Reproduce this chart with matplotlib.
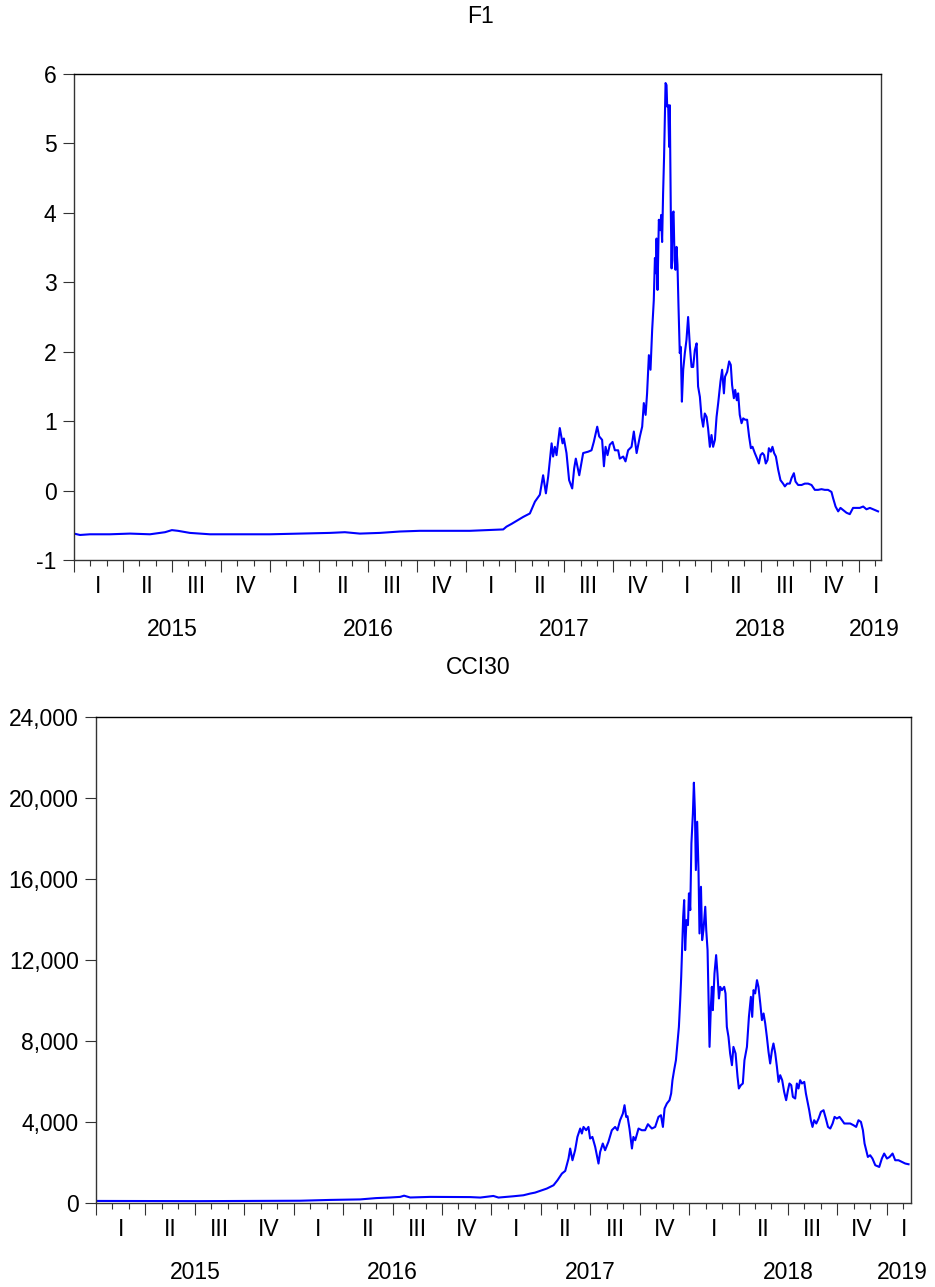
import matplotlib
matplotlib.use("Agg")
import matplotlib.pyplot as plt
import matplotlib.transforms as mtransforms
from matplotlib.ticker import FuncFormatter

plt.rcParams["font.family"] = ["Liberation Sans", "DejaVu Sans"]
plt.rcParams["axes.unicode_minus"] = False

# Time axis: months elapsed since January 2015 (daily series, sampled at turning points)
f1_t = [0.00, 0.37, 0.98, 2.20, 3.43, 4.65, 5.57, 5.99, 6.36, 7.09, 8.32, 10.15, 11.99,
        13.82, 15.66, 16.57, 17.49, 18.72, 19.94, 21.16, 22.39, 24.22, 26.26, 26.46, 26.77,
        27.48, 27.89, 28.20, 28.50, 28.70, 28.87, 29.01, 29.22, 29.31, 29.42, 29.52, 29.72,
        29.89, 29.97, 30.13, 30.29, 30.48, 30.60, 30.70, 30.91, 31.15, 31.46, 31.66, 31.80,
        32.01, 32.13, 32.31, 32.42, 32.52, 32.64, 32.78, 32.95, 33.09, 33.29, 33.39, 33.60,
        33.74, 33.90, 34.11, 34.25, 34.42, 34.62, 34.76, 34.86, 34.97, 35.06, 35.17, 35.27,
        35.37, 35.47, 35.54, 35.60, 35.64, 35.70, 35.78, 35.86, 35.92, 35.98, 36.04, 36.10,
        36.19, 36.25, 36.29, 36.35, 36.41, 36.45, 36.51, 36.56, 36.62, 36.68, 36.74, 36.80,
        36.86, 36.92, 36.98, 37.06, 37.12, 37.19, 37.27, 37.37, 37.47, 37.57, 37.68, 37.78,
        37.88, 37.98, 38.09, 38.18, 38.29, 38.39, 38.49, 38.59, 38.70, 38.79, 38.90, 39.00,
        39.10, 39.21, 39.31, 39.41, 39.55, 39.65, 39.76, 39.83, 39.96, 40.08, 40.18, 40.26,
        40.37, 40.45, 40.55, 40.63, 40.73, 40.84, 40.94, 41.06, 41.18, 41.30, 41.41, 41.51,
        41.65, 41.79, 41.90, 42.00, 42.12, 42.22, 42.32, 42.43, 42.51, 42.63, 42.73, 42.83,
        42.94, 43.08, 43.22, 43.38, 43.49, 43.63, 43.79, 43.90, 44.04, 44.14, 44.30, 44.51,
        44.71, 44.91, 45.12, 45.32, 45.52, 45.73, 45.93, 46.13, 46.34, 46.44, 46.59, 46.75,
        46.89, 47.05, 47.26, 47.46, 47.66, 47.87, 48.07, 48.28, 48.48, 48.69, 48.89, 49.19]

f1_v = [-0.62, -0.64, -0.63, -0.63, -0.62, -0.63, -0.60, -0.57, -0.58, -0.61, -0.63, -0.63,
        -0.63, -0.62, -0.61, -0.60, -0.62, -0.61, -0.59, -0.58, -0.58, -0.58, -0.56, -0.52,
        -0.48, -0.38, -0.33, -0.16, -0.06, 0.22, -0.04, 0.20, 0.68, 0.49, 0.63, 0.51, 0.90,
        0.68, 0.75, 0.54, 0.15, 0.03, 0.32, 0.46, 0.22, 0.54, 0.56, 0.58, 0.70, 0.92, 0.78,
        0.73, 0.35, 0.63, 0.51, 0.66, 0.70, 0.58, 0.58, 0.46, 0.49, 0.42, 0.58, 0.63, 0.85,
        0.54, 0.78, 0.92, 1.26, 1.09, 1.40, 1.95, 1.74, 2.31, 2.74, 3.35, 3.13, 3.63, 2.89,
        3.90, 3.75, 3.97, 3.58, 4.28, 4.81, 5.87, 5.84, 5.53, 5.55, 4.95, 5.55, 4.04, 3.20,
        3.99, 4.02, 3.32, 3.18, 3.51, 3.25, 2.67, 1.98, 2.07, 1.28, 1.74, 1.98, 2.17, 2.50,
        2.07, 1.78, 1.78, 2.02, 2.12, 1.50, 1.35, 1.06, 0.92, 1.11, 1.06, 0.90, 0.63, 0.80,
        0.63, 0.73, 1.06, 1.26, 1.57, 1.74, 1.40, 1.64, 1.71, 1.86, 1.81, 1.52, 1.33, 1.45,
        1.30, 1.40, 1.09, 0.97, 1.04, 1.02, 1.02, 0.78, 0.61, 0.63, 0.54, 0.46, 0.39, 0.51,
        0.54, 0.51, 0.39, 0.44, 0.61, 0.56, 0.63, 0.54, 0.49, 0.30, 0.15, 0.10, 0.06, 0.10,
        0.10, 0.18, 0.25, 0.13, 0.08, 0.08, 0.10, 0.10, 0.08, 0.01, 0.01, 0.02, 0.01, 0.01,
        -0.02, -0.11, -0.23, -0.30, -0.25, -0.28, -0.32, -0.34, -0.25, -0.25, -0.25, -0.23,
        -0.27, -0.25, -0.27, -0.30]

cci_t = [0.00, 3.28, 6.31, 9.96, 12.39, 14.21, 16.03, 17.00, 17.85, 18.46, 18.70, 19.07,
         20.28, 22.71, 23.32, 24.12, 24.43, 25.34, 25.94, 26.35, 26.65, 27.06, 27.36, 27.77,
         28.01, 28.28, 28.48, 28.68, 28.78, 28.92, 29.08, 29.22, 29.39, 29.49, 29.59, 29.75,
         29.89, 29.99, 30.13, 30.30, 30.40, 30.50, 30.60, 30.76, 30.90, 31.10, 31.31, 31.51,
         31.65, 31.81, 31.98, 32.08, 32.18, 32.26, 32.38, 32.53, 32.62, 32.73, 32.93, 33.13,
         33.33, 33.50, 33.74, 33.94, 34.14, 34.29, 34.41, 34.51, 34.65, 34.81, 34.91, 34.99,
         35.09, 35.20, 35.29, 35.38, 35.46, 35.52, 35.58, 35.64, 35.70, 35.76, 35.84, 35.93,
         35.99, 36.07, 36.14, 36.23, 36.29, 36.35, 36.41, 36.49, 36.57, 36.63, 36.72, 36.79,
         36.87, 36.98, 37.04, 37.12, 37.18, 37.24, 37.32, 37.38, 37.44, 37.54, 37.64, 37.72,
         37.81, 37.89, 37.99, 38.13, 38.21, 38.29, 38.39, 38.49, 38.60, 38.69, 38.82, 38.94,
         39.02, 39.14, 39.26, 39.36, 39.51, 39.63, 39.75, 39.83, 39.91, 40.01, 40.12, 40.21,
         40.32, 40.42, 40.52, 40.62, 40.72, 40.82, 40.92, 41.03, 41.12, 41.23, 41.33, 41.43,
         41.53, 41.65, 41.77, 41.89, 42.00, 42.09, 42.20, 42.30, 42.44, 42.54, 42.64, 42.74,
         42.85, 42.99, 43.09, 43.19, 43.29, 43.39, 43.49, 43.59, 43.72, 43.86, 44.00, 44.16,
         44.30, 44.43, 44.57, 44.71, 44.83, 44.97, 45.13, 45.28, 45.42, 45.58, 45.78, 45.98,
         46.14, 46.28, 46.43, 46.55, 46.65, 46.75, 46.85, 46.99, 47.13, 47.30, 47.54, 47.70,
         47.84, 48.01, 48.17, 48.35, 48.51, 48.71, 48.92, 49.12, 49.32]

cci_v = [100, 95, 90, 105, 110, 150, 175, 240, 270, 300, 360, 270, 300, 290, 267, 346, 267,
         331, 380, 463, 512, 628, 710, 875, 1122, 1453, 1582, 2195, 2690, 2111, 2606, 3263,
         3678, 3431, 3757, 3594, 3757, 3184, 3263, 2769, 2358, 1948, 2521, 2937, 2606, 3016,
         3594, 3757, 3594, 4089, 4420, 4830, 4252, 4286, 3678, 2690, 3263, 3100, 3678, 3594,
         3594, 3891, 3678, 3757, 4252, 4336, 3757, 4667, 4914, 5078, 5408, 6066, 6561, 7055,
         7880, 8702, 10022, 11174, 12657, 14140, 14966, 12494, 13977, 13730, 15297, 14471,
         17769, 19252, 20766, 19416, 16449, 18837, 16449, 13317, 15623, 12988, 13482, 14635,
         13482, 12494, 10105, 7713, 9690, 10679, 9527, 11340, 12247, 11340, 10105, 10679,
         10516, 10679, 10353, 8702, 8207, 7386, 6808, 7713, 7386, 6230, 5656, 5819, 5903,
         7055, 7713, 9196, 10185, 9196, 10516, 10353, 11010, 10679, 9858, 9033, 9364, 8869,
         8207, 7466, 6892, 7550, 7880, 7386, 6724, 5982, 6313, 6066, 5488, 5078, 5572, 5903,
         5819, 5241, 5161, 5903, 5656, 6066, 5903, 5982, 5408, 4993, 4583, 4089, 3757, 4089,
         3926, 4173, 4499, 4583, 4173, 3757, 3678, 3926, 4252, 4173, 4252, 4089, 3926, 3926,
         3926, 3841, 3757, 4089, 4005, 3594, 2937, 2606, 2274, 2358, 2195, 1864, 1780, 2195,
         2442, 2195, 2274, 2442, 2111, 2111, 2027, 1948, 1913]

quarter_names = ["I", "II", "III", "IV"]
years = ["2015", "2016", "2017", "2018", "2019"]

f1_ticks = [-1, 0, 1, 2, 3, 4, 5, 6]
cci_ticks = [0, 4000, 8000, 12000, 16000, 20000, 24000]

FS = 16.5
EDGE = "#333333"
LINE = "#0000ff"

fig = plt.figure(figsize=(9.35, 12.87), dpi=100)


def style_axis(ax, xmax):
    ax.set_xlim(0, xmax)
    for s in ax.spines.values():
        s.set_color(EDGE)
        s.set_linewidth(1.0)
    ax.spines["top"].set_color("black")
    ax.set_xticks(range(0, 50, 3))
    ax.set_xticks([m for m in range(0, 50) if m % 3], minor=True)
    ax.tick_params(axis="x", which="major", direction="out", length=8.6, width=0.8,
                   color=EDGE, labelbottom=False, top=False)
    ax.tick_params(axis="x", which="minor", direction="out", length=4.5, width=0.8,
                   color=EDGE, top=False)
    ax.tick_params(axis="y", direction="out", length=8, width=0.8, color=EDGE,
                   labelsize=FS, pad=4.5, right=False)

    # quarter and year labels under the time axis
    base = mtransforms.blended_transform_factory(ax.transData, ax.transAxes)
    q_tr = mtransforms.offset_copy(base, fig=fig, y=-27, units="dots")
    y_tr = mtransforms.offset_copy(base, fig=fig, y=-70, units="dots")
    for k in range(16):
        ax.text(1.5 + 3 * k, 0, quarter_names[k % 4], transform=q_tr,
                ha="center", va="center", fontsize=FS)
    ax.text(49.05, 0, quarter_names[0], transform=q_tr, ha="center", va="center",
            fontsize=FS)
    for k, yr in enumerate(years[:4]):
        ax.text(6 + 12 * k, 0, yr, transform=y_tr, ha="center", va="center", fontsize=FS)
    ax.text(48.95, 0, years[4], transform=y_tr, ha="center", va="center", fontsize=FS,
            clip_on=False)


# F1 panel
ax1 = fig.add_axes([0.0791, 0.5649, 0.9419 - 0.0791, 0.9425 - 0.5649])
ax1.plot(f1_t, f1_v, color=LINE, lw=1.5)
ax1.set_ylim(-1, 6)
ax1.set_yticks(f1_ticks)
ax1.set_yticklabels([str(v) for v in f1_ticks])
style_axis(ax1, 49.35)
fig.text(0.514, 0.9868, "F1", ha="center", va="center", fontsize=FS)

# CCI30 panel
ax2 = fig.add_axes([0.1027, 0.0653, 0.974 - 0.1027, 0.4427 - 0.0653])
ax2.plot(cci_t, cci_v, color=LINE, lw=1.5)
ax2.set_ylim(0, 24000)
ax2.set_yticks(cci_ticks)
ax2.yaxis.set_major_formatter(FuncFormatter(lambda v, p: f"{int(v):,}"))
style_axis(ax2, 49.45)
fig.text(0.511, 0.481, "CCI30", ha="center", va="center", fontsize=FS)

fig.savefig("out.png", dpi=100)
